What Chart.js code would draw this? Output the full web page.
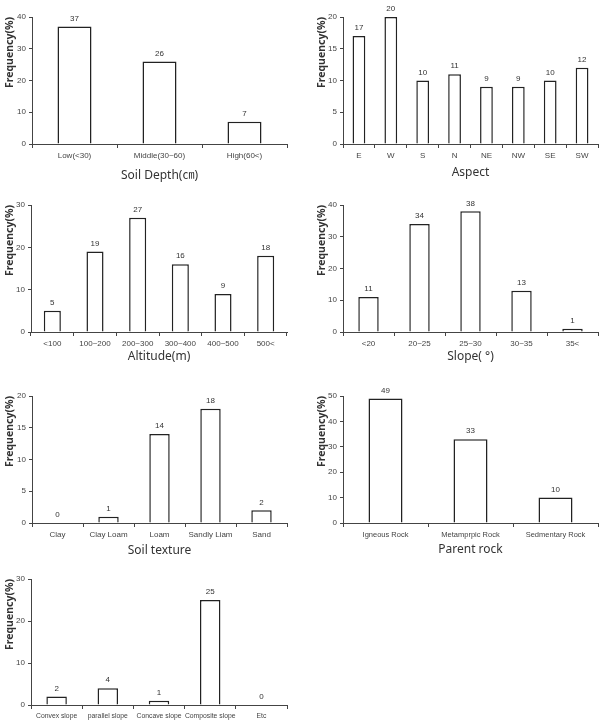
<!DOCTYPE html>
<html>
<head>
<meta charset="utf-8">
<script src="https://cdn.jsdelivr.net/npm/chart.js@4.4.0/dist/chart.umd.min.js"></script>
<style>
    body { margin: 0; background: #fff; }
    #wrap { position: relative; width: 604px; height: 721px; overflow: hidden; }
    .panel { position: absolute; }
</style>
</head>
<body>
<div id="wrap"></div>
<script>
// data
const depthLabels = ['Low(<30)', 'Middle(30~60)', 'High(60<)'];
const depthValues = [37, 26, 7];
const aspectLabels = ['E', 'W', 'S', 'N', 'NE', 'NW', 'SE', 'SW'];
const aspectValues = [17, 20, 10, 11, 9, 9, 10, 12];
const altitudeLabels = ['<100', '100~200', '200~300', '300~400', '400~500', '500<'];
const altitudeValues = [5, 19, 27, 16, 9, 18];
const slopeLabels = ['<20', '20~25', '25~30', '30~35', '35<'];
const slopeValues = [11, 34, 38, 13, 1];
const textureLabels = ['Clay', 'Clay Loam', 'Loam', 'Sandly Liam', 'Sand'];
const textureValues = [0, 1, 14, 18, 2];
const rockLabels = ['Igneous Rock', 'Metamprpic Rock', 'Sedmentary Rock'];
const rockValues = [49, 33, 10];
const shapeLabels = ['Convex slope', 'parallel slope', 'Concave slope', 'Composite slope', 'Etc'];
const shapeValues = [2, 4, 1, 25, 0];

// layout of each small chart (canvas box + plot area)
const panels = [
    { labels: depthLabels, values: depthValues, title: 'Soil Depth(㎝)', max: 40, step: 10, tickSize: 8,
      left: 0, top: 0, width: 300, height: 185, plotTop: 17, plotBottom: 144, plotLeft: 32, plotRight: 287 },
    { labels: aspectLabels, values: aspectValues, title: 'Aspect', max: 20, step: 5, tickSize: 8,
      left: 312, top: 0, width: 292, height: 182, plotTop: 17, plotBottom: 144, plotLeft: 343, plotRight: 598 },
    { labels: altitudeLabels, values: altitudeValues, title: 'Altitude(m)', max: 30, step: 10, tickSize: 8,
      left: 0, top: 185, width: 300, height: 181, plotTop: 205, plotBottom: 332, plotLeft: 31, plotRight: 287 },
    { labels: slopeLabels, values: slopeValues, title: 'Slope( °)', max: 40, step: 10, tickSize: 8,
      left: 312, top: 185, width: 292, height: 181, plotTop: 205, plotBottom: 332, plotLeft: 343, plotRight: 598 },
    { labels: textureLabels, values: textureValues, title: 'Soil texture', max: 20, step: 5, tickSize: 8,
      left: 0, top: 376, width: 300, height: 184, plotTop: 396, plotBottom: 523, plotLeft: 32, plotRight: 287 },
    { labels: rockLabels, values: rockValues, title: 'Parent rock', max: 50, step: 10, tickSize: 7.5,
      left: 312, top: 376, width: 292, height: 183, plotTop: 396, plotBottom: 523, plotLeft: 343, plotRight: 598 },
    { labels: shapeLabels, values: shapeValues, title: '', max: 30, step: 10, tickSize: 6.8,
      left: 0, top: 560, width: 300, height: 161, plotTop: 579, plotBottom: 705, plotLeft: 31, plotRight: 287 }
];

const sans = '"Liberation Sans", sans-serif';

// numbers on top of bars
const valueLabels = {
    id: 'valueLabels',
    afterDatasetsDraw(chart) {
        const ctx = chart.ctx;
        const meta = chart.getDatasetMeta(0);
        ctx.save();
        ctx.font = '8px ' + sans;
        ctx.fillStyle = '#333';
        ctx.textAlign = 'center';
        ctx.textBaseline = 'middle';
        meta.data.forEach((bar, i) => {
            ctx.fillText(chart.data.datasets[0].data[i], bar.x, bar.y - 8);
        });
        ctx.restore();
    }
};

const wrap = document.getElementById('wrap');

panels.forEach(p => {
    const box = document.createElement('div');
    box.className = 'panel';
    box.style.left = p.left + 'px';
    box.style.top = p.top + 'px';
    box.style.width = p.width + 'px';
    box.style.height = p.height + 'px';
    const cv = document.createElement('canvas');
    box.appendChild(cv);
    wrap.appendChild(box);

    const yW = p.plotLeft - p.left;
    const padTop = p.plotTop - p.top;
    const padRight = p.left + p.width - p.plotRight;
    const xH = p.top + p.height - p.plotBottom;

    new Chart(cv, {
        type: 'bar',
        data: {
            labels: p.labels,
            datasets: [{
                data: p.values,
                backgroundColor: '#ffffff',
                borderColor: '#222222',
                borderWidth: 1.5,
                categoryPercentage: 1,
                barPercentage: 0.4
            }]
        },
        options: {
            responsive: true,
            maintainAspectRatio: false,
            animation: false,
            layout: { padding: { top: padTop, right: padRight, left: 0, bottom: 0 } },
            plugins: { legend: { display: false }, tooltip: { enabled: false } },
            scales: {
                x: {
                    grid: { drawOnChartArea: false, tickLength: 4, color: '#444' },
                    border: { color: '#444', width: 1 },
                    ticks: { color: '#444', font: { size: p.tickSize, family: sans }, padding: 3, maxRotation: 0, autoSkip: false },
                    title: { display: p.title !== '', text: p.title, color: '#333',
                             font: { size: 12, family: '"Noto Sans", "Noto Sans CJK KR", sans-serif' },
                             padding: { top: 0, bottom: 2.5 } },
                    afterFit: s => { s.height = xH; }
                },
                y: {
                    min: 0,
                    max: p.max,
                    grid: { drawOnChartArea: false, tickLength: 3, color: '#444' },
                    border: { color: '#444', width: 1 },
                    ticks: { stepSize: p.step, color: '#444', font: { size: 8, family: sans }, padding: 3 },
                    title: { display: true, text: 'Frequency(%)', color: '#333', align: 'end',
                             font: { size: 10.5, weight: 'bold', family: '"Noto Sans", sans-serif' },
                             padding: { top: 3.5, bottom: 0 } },
                    afterFit: s => { s.width = yW; }
                }
            }
        },
        plugins: [valueLabels]
    });
});
</script>
</body>
</html>
